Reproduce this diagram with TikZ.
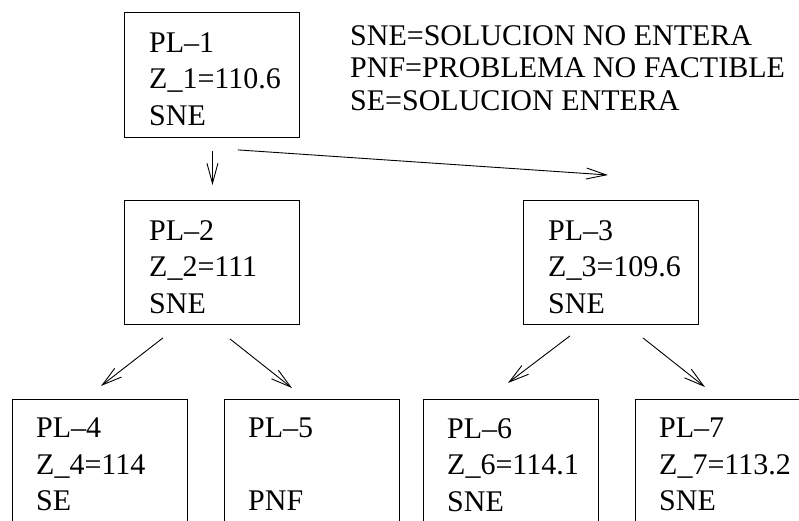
\documentclass[tikz,border=0pt]{standalone}
\usepackage{fontspec}
\setmainfont{Liberation Serif}
\usetikzlibrary{arrows.meta,calc}
\tikzset{
  boxnode/.style={draw,line width=0.9pt,rectangle,minimum width=175pt,minimum height=125pt,inner sep=0pt,anchor=north west},
  tallbox/.style={boxnode,minimum height=160pt},
  txt/.style={anchor=north west,inner sep=0pt,align=left,font=\rmfamily\fontsize{30}{36.5}\selectfont},
  legend/.style={anchor=north west,inner sep=0pt,align=left,font=\rmfamily\fontsize{30}{32.5}\selectfont},
  arr/.style={line width=0.9pt,-{Straight Barb[length=20pt,width=11pt,line width=0.9pt]}}
}
\begin{document}
\begin{tikzpicture}[x=1pt,y=-1pt]
\clip (0,0) rectangle (799,521);
\fill[white] (0,0) rectangle (799,521);
% boxes
\node[boxnode] (b1) at (124,12) {};
\node[boxnode,minimum height=124pt] (b2) at (124,200) {};
\node[boxnode,minimum height=124pt] (b3) at (523,200) {};
\node[tallbox] (b4) at (12,399) {};
\node[tallbox] (b5) at (224,399) {};
\node[tallbox] (b6) at (423,399) {};
\node[tallbox] (b7) at (635,399) {};
% texts
\node[txt] (t1) at ($(b1.north west)+(25,20)$) {PL–1\\Z\_1=110.6\\SNE};
\node[txt] (t2) at ($(b2.north west)+(25,20)$) {PL–2\\Z\_2=111\\SNE};
\node[txt] (t3) at ($(b3.north west)+(25,20)$) {PL–3\\Z\_3=109.6\\SNE};
\node[txt] (t4) at ($(b4.north west)+(24,19)$) {PL–4\\Z\_4=114\\SE};
\node[txt] (t5) at ($(b5.north west)+(24,19)$) {PL–5\\\mbox{}\\PNF};
\node[txt] (t6) at ($(b6.north west)+(24,19)$) {PL–6\\Z\_6=114.1\\SNE};
\node[txt] (t7) at ($(b7.north west)+(24,19)$) {PL–7\\Z\_7=113.2\\SNE};
% legend
\node[legend] (leg) at (350,25) {SNE=SOLUCION NO ENTERA\\PNF=PROBLEMA NO FACTIBLE\\SE=SOLUCION ENTERA};
% arrows
\draw[arr] ($(b1.south)+(0.5,13)$) -- ($(b2.north)+(0.5,-15)$);
\draw[arr] ($(b1.south east)+(-62,12)$) -- ($(b3.north)+(-3,-25)$);
\draw[arr] ($(b2.south)+(-49,13)$) -- ($(b4.north)+(1,-13)$);
\draw[arr] ($(b2.south)+(18,14)$) -- ($(b5.north)+(-20,-11)$);
\draw[arr] ($(b3.south)+(-41,11)$) -- ($(b6.north)+(-3,-16)$);
\draw[arr] ($(b3.south)+(32,13)$) -- ($(b7.north)+(-18,-12)$);
\end{tikzpicture}
\end{document}
